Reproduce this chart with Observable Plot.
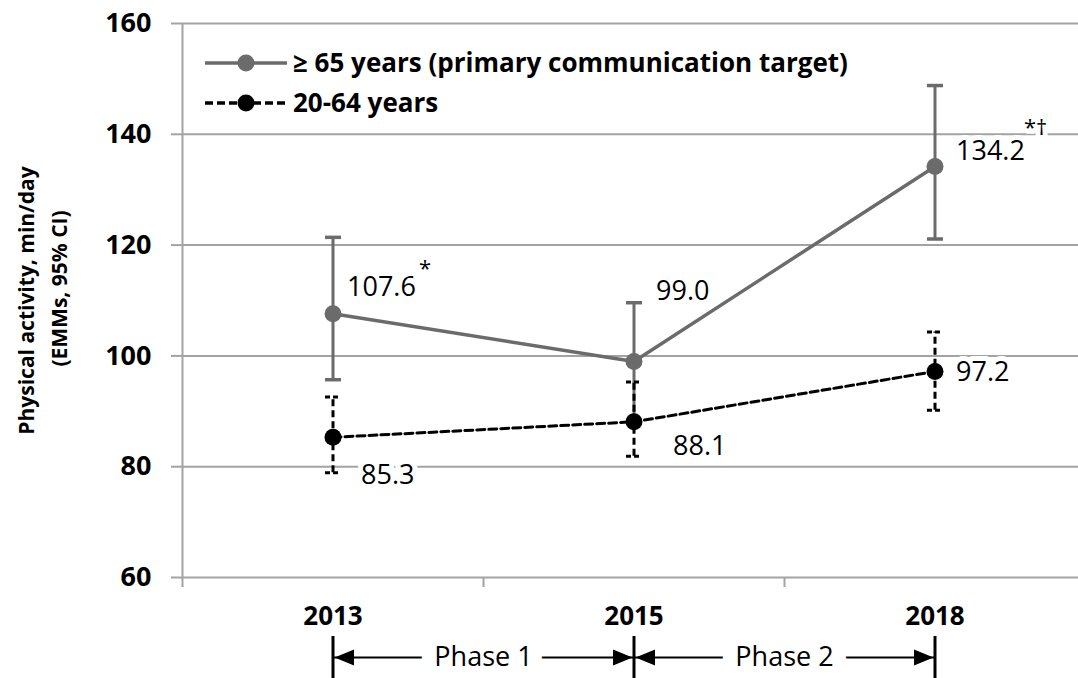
<!DOCTYPE html>
<html><head><meta charset="utf-8">
<script src="https://cdn.jsdelivr.net/npm/d3@7"></script>
<script src="https://cdn.jsdelivr.net/npm/@observablehq/plot@0.6"></script>
<style>
body{margin:0;background:#fff;font-family:"Open Sans",sans-serif;}
#wrap{position:relative;width:1078px;height:678px;overflow:hidden;}
#wrap svg{display:block;}
#legend{position:absolute;left:0;top:0;}
</style></head><body><div id="wrap"></div>
<script>
// ---- data ----
const years = ["2013", "2015", "2018"];
const seriesNames = ["≥ 65 years (primary communication target)", "20-64 years"];
const olderMean = [107.6, 99.0, 134.2];
const olderLow  = [95.7, 88.4, 121.1];
const olderHigh = [121.4, 109.6, 148.8];
const olderNote = ["*", "", "*†"];
const youngerMean = [85.3, 88.1, 97.2];
const youngerLow  = [78.9, 81.9, 90.2];
const youngerHigh = [92.6, 95.3, 104.3];
const yTicks = [60, 80, 100, 120, 140, 160];
const yTitle = ["Physical activity, min/day", "(EMMs, 95% CI)"];
const phaseNames = ["Phase 1", "Phase 2"];
const phaseStart = ["2013", "2015"];
const phaseEnd = ["2015", "2018"];

// ---- layout / style ----
const FONT = "'Open Sans', sans-serif";
const W = 1078, H1 = 636, H2 = 42;
const grid = "#a3a3a3", gray = "#6b6b6b", black = "#000";
const xDomain = [-0.5, years.length - 0.5];
const xRange = [182, 1085];
const olderLabelOff = [[14, -26], [22, -70], [21, -15]];
const olderNoteOff = [[86, -45], null, [89, -38]];
const youngerLabelOff = [[28, 38], [39, 25], [21, 1]];

const older = years.map((y, i) => ({i, mean: olderMean[i], lo: olderLow[i], hi: olderHigh[i], note: olderNote[i]}));
const younger = years.map((y, i) => ({i, mean: youngerMean[i], lo: youngerLow[i], hi: youngerHigh[i]}));
const edges = d3.range(years.length + 1).map(k => k - 0.5);
const phases = phaseNames.map((p, k) => ({label: p, from: years.indexOf(phaseStart[k]), to: years.indexOf(phaseEnd[k])}));

const hbar = {draw(ctx, size) { const r = Math.sqrt(size / Math.PI); ctx.moveTo(-r, 0); ctx.lineTo(r, 0); }};
const arrowL = {draw(ctx) { ctx.moveTo(1.5, 0); ctx.lineTo(21, -8); ctx.lineTo(21, 8); ctx.closePath(); }};
const arrowR = {draw(ctx) { ctx.moveTo(-1.5, 0); ctx.lineTo(-21, -8); ctx.lineTo(-21, 8); ctx.closePath(); }};

const labelMarks = [];
older.forEach((d, k) => {
  labelMarks.push(Plot.text([d], {x: "i", y: "mean", text: v => v.mean.toFixed(1), dx: olderLabelOff[k][0], dy: olderLabelOff[k][1],
    textAnchor: "start", fontSize: 27, fill: black, stroke: "white", strokeWidth: 10, paintOrder: "stroke"}));
  if (olderNoteOff[k]) labelMarks.push(Plot.text([d], {x: "i", y: "mean", text: "note", dx: olderNoteOff[k][0], dy: olderNoteOff[k][1],
    textAnchor: "start", fontSize: 22, fill: black, stroke: "white", strokeWidth: 10, paintOrder: "stroke"}));
});
younger.forEach((d, k) => {
  labelMarks.push(Plot.text([d], {x: "i", y: "mean", text: v => v.mean.toFixed(1), dx: youngerLabelOff[k][0], dy: youngerLabelOff[k][1],
    textAnchor: "start", fontSize: 27, fill: black, stroke: "white", strokeWidth: 10, paintOrder: "stroke"}));
});

const main = Plot.plot({
  width: W, height: H1,
  marginLeft: 182, marginRight: 0, marginTop: 23, marginBottom: 59,
  style: {fontFamily: FONT, background: "white"},
  x: {type: "linear", domain: xDomain, range: xRange},
  y: {domain: [60, 160]},
  marks: [
    Plot.ruleY(yTicks, {stroke: grid, strokeWidth: 2}),
    Plot.ruleX([edges[0]], {stroke: grid, strokeWidth: 2}),
    Plot.axisY({ticks: yTicks, tickSize: 11, tickPadding: 20, stroke: grid, strokeWidth: 2, fill: black,
      fontSize: 27, fontWeight: "bold", label: null}),
    Plot.axisX({ticks: edges, tickSize: 10, tickFormat: () => "", stroke: grid, strokeWidth: 2, label: null}),
    Plot.axisX({ticks: d3.range(years.length), tickFormat: i => years[i], tickSize: 0, tickPadding: 29,
      fill: black, fontSize: 26, fontWeight: "bold", label: null}),
    Plot.text([yTitle[0]], {frameAnchor: "left", textAnchor: "middle", rotate: -90, dx: -155, dy: 0, fontSize: 21, fontWeight: "bold", fill: black}),
    Plot.text([yTitle[1]], {frameAnchor: "left", textAnchor: "middle", rotate: -90, dx: -122, dy: -12, fontSize: 21, fontWeight: "bold", fill: black}),
    ...labelMarks,
    // older series
    Plot.ruleX(older, {x: "i", y1: "lo", y2: "hi", stroke: gray, strokeWidth: 3}),
    Plot.dot(older, {x: "i", y: "lo", symbol: hbar, r: 8, stroke: gray, strokeWidth: 3.5}),
    Plot.dot(older, {x: "i", y: "hi", symbol: hbar, r: 8, stroke: gray, strokeWidth: 3.5}),
    Plot.line(older, {x: "i", y: "mean", stroke: gray, strokeWidth: 3.5}),
    Plot.dot(older, {x: "i", y: "mean", r: 8.5, fill: gray}),
    // younger series
    Plot.ruleX(younger, {x: "i", y1: "lo", y2: "hi", stroke: black, strokeWidth: 3, strokeDasharray: "7,4"}),
    Plot.dot(younger, {x: "i", y: "lo", symbol: hbar, r: 8, stroke: black, strokeWidth: 3, strokeDasharray: "5,3"}),
    Plot.dot(younger, {x: "i", y: "hi", symbol: hbar, r: 8, stroke: black, strokeWidth: 3, strokeDasharray: "5,3"}),
    Plot.line(younger, {x: "i", y: "mean", stroke: black, strokeWidth: 3, strokeDasharray: "8,4"}),
    Plot.dot(younger, {x: "i", y: "mean", r: 8.5, fill: black})
  ]
});

const strip = Plot.plot({
  width: W, height: H2,
  marginLeft: 182, marginRight: 0, marginTop: 0, marginBottom: 0,
  style: {fontFamily: FONT, background: "white"},
  x: {type: "linear", domain: xDomain, range: xRange, axis: null},
  y: {type: "point", domain: ["phase"], axis: null},
  marks: [
    Plot.ruleY(phases, {x1: "from", x2: "to", y: () => "phase", stroke: black, strokeWidth: 2}),
    Plot.text(phases, {x: d => (d.from + d.to) / 2, y: () => "phase", text: "label", fontSize: 27, fill: black,
      stroke: "white", strokeWidth: 30, paintOrder: "stroke"}),
    Plot.ruleX(d3.range(years.length), {stroke: black, strokeWidth: 3}),
    Plot.dot(phases, {x: "from", y: () => "phase", symbol: arrowL, fill: black, stroke: "none"}),
    Plot.dot(phases, {x: "to", y: () => "phase", symbol: arrowR, fill: black, stroke: "none"})
  ]
});

const wrap = document.getElementById("wrap");
wrap.appendChild(main);
wrap.appendChild(strip);

// legend overlay
const leg = d3.select(wrap).append("svg").attr("id", "legend").attr("width", 900).attr("height", 130);
const legRows = [
  {name: seriesNames[0], color: gray, dash: null, y: 63},
  {name: seriesNames[1], color: black, dash: "8,4", y: 103}
];
legRows.forEach(r => {
  leg.append("line").attr("x1", 205).attr("x2", 287).attr("y1", r.y).attr("y2", r.y)
    .attr("stroke", r.color).attr("stroke-width", 3.5).attr("stroke-dasharray", r.dash);
  leg.append("circle").attr("cx", 246).attr("cy", r.y).attr("r", 8.5).attr("fill", r.color);
  leg.append("text").attr("x", 293).attr("y", r.y).attr("dy", "0.36em").attr("font-size", 26)
    .attr("font-weight", "bold").attr("font-family", FONT).attr("fill", black).text(r.name);
});
</script></body></html>
